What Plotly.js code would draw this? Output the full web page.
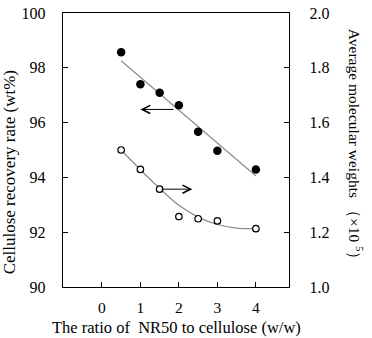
<!DOCTYPE html>
<html>
<head>
<meta charset="utf-8">
<script src="https://cdn.plot.ly/plotly-3.0.1.min.js"></script>
<style>html,body{margin:0;padding:0;background:#fff}#chart{width:372px;height:338px}</style>
</head>
<body>
<div id="chart"></div>
<script>
// Data
const ratio = [0.5, 1, 1.5, 2, 2.5, 3, 4];
const recoveryRate = [98.57, 97.40, 97.09, 96.63, 95.67, 94.97, 94.29];
const molWeight = [1.500, 1.429, 1.357, 1.257, 1.249, 1.241, 1.213];
// fitted trend lines as drawn in the reference
const recoveryFitX = [0.5, 4];
const recoveryFitY = [98.26, 94.05];
const mwFitX = [0.5, 1.0, 1.5, 2.0, 2.5, 3.0, 3.5, 4.0];
const mwFitY = [1.500, 1.428, 1.360, 1.298, 1.255, 1.228, 1.215, 1.213];
const xTicks = [0, 1, 2, 3, 4];
const yLeftTicks = [90, 92, 94, 96, 98, 100];
const yRightTicks = [1.0, 1.2, 1.4, 1.6, 1.8, 2.0];

const FONT = "'Liberation Serif', 'Times New Roman', serif";

const traces = [
  {x: recoveryFitX, y: recoveryFitY, mode: 'lines', line: {color: '#8c8c8c', width: 1.2}, yaxis: 'y', hoverinfo: 'skip'},
  {x: mwFitX, y: mwFitY, mode: 'lines', line: {color: '#8c8c8c', width: 1.2, shape: 'spline'}, yaxis: 'y2', hoverinfo: 'skip'},
  {x: ratio, y: recoveryRate, mode: 'markers', marker: {color: '#000', size: 8.5}, yaxis: 'y'},
  {x: ratio, y: molWeight, mode: 'markers', marker: {color: '#fff', size: 6.5, line: {color: '#000', width: 1.2}}, yaxis: 'y2'}
];

const layout = {
  width: 372, height: 338,
  margin: {l: 63, r: 83, t: 13, b: 51},
  showlegend: false,
  paper_bgcolor: '#fff', plot_bgcolor: '#fff',
  font: {family: FONT, color: '#000', size: 16},
  xaxis: {
    range: [-1.01, 4.86], tickvals: xTicks, ticktext: xTicks.map(String),
    ticks: 'inside', ticklen: 5, tickcolor: '#000', tickwidth: 1,
    showline: true, linecolor: '#000', linewidth: 1.2, mirror: true,
    showgrid: false, zeroline: false, ticklabelstandoff: 6,
    tickfont: {family: FONT, size: 15.5}
  },
  yaxis: {
    range: [90, 100], tickvals: yLeftTicks, ticktext: yLeftTicks.map(String),
    ticks: 'inside', ticklen: 5, tickcolor: '#000',
    showline: true, linecolor: '#000', linewidth: 1.2,
    showgrid: false, zeroline: false, ticklabelstandoff: 13,
    tickfont: {family: FONT, size: 16}
  },
  yaxis2: {
    range: [1.0, 2.0], tickvals: yRightTicks, ticktext: yRightTicks.map(v => v.toFixed(1)),
    overlaying: 'y', side: 'right',
    ticks: 'inside', ticklen: 5, tickcolor: '#000',
    showline: true, linecolor: '#000', linewidth: 1.2,
    showgrid: false, zeroline: false, ticklabelstandoff: 16,
    tickfont: {family: FONT, size: 16}
  },
  annotations: [
    {xref: 'paper', yref: 'paper', x: 0.5, y: -0.148, text: 'The ratio of&nbsp; NR50 to cellulose (w/w)',
     showarrow: false, xanchor: 'center', yanchor: 'middle', font: {family: FONT, size: 16.5}},
    {xref: 'paper', yref: 'paper', x: -0.237, y: 0.42, text: 'Cellulose recovery rate (wt%)',
     textangle: -90, showarrow: false, xanchor: 'center', yanchor: 'middle', font: {family: FONT, size: 17}},
    {xref: 'paper', yref: 'paper', x: 1.296, y: 0.505, text: 'Average molecular weights （×10 <sup>5</sup>）',
     textangle: 90, showarrow: false, xanchor: 'center', yanchor: 'middle', font: {family: FONT, size: 15.5}},
    {xref: 'x', yref: 'y', axref: 'x', ayref: 'y', x: 1.0, y: 96.48, ax: 1.90, ay: 96.48, text: '',
     showarrow: true, arrowhead: 5, arrowsize: 1.6, arrowwidth: 1, arrowcolor: '#000'},
    {xref: 'x', yref: 'y2', axref: 'x', ayref: 'y2', x: 2.35, y: 1.357, ax: 1.51, ay: 1.357, text: '',
     showarrow: true, arrowhead: 5, arrowsize: 1.6, arrowwidth: 1, arrowcolor: '#000'}
  ]
};

Plotly.newPlot('chart', traces, layout, {staticPlot: true, displayModeBar: false});
</script>
</body>
</html>
